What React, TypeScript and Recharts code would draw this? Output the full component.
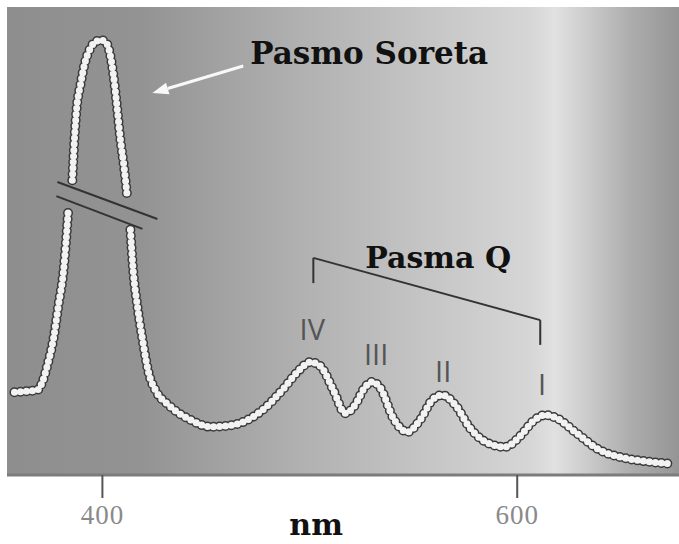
import React from "react";
import {
  LineChart,
  Line,
  XAxis,
  YAxis,
  ReferenceArea,
  ReferenceLine,
  ReferenceDot,
} from "recharts";

// wavelength (nm); null value marks the axis break gaps
const WAVELENGTH = [
  357.6, 362.9, 368.7, 371.1, 373.5, 376.4, 378.8, 381.2, 383.6, 384.6,
  385.5, 386.5, 387.5, 389.4, 391.3, 394.2, 397.1, 399.5, 401.9, 403.8,
  405.3, 406.7, 408.7, 410.6, 412.0, 412.7, 413.5, 414.9, 416.8, 419.3,
  422.2, 425.5, 431.8, 442.4, 452.0, 463.1, 476.1, 487.2, 494.0, 500.2,
  505.0, 511.3, 517.1, 521.9, 526.3, 530.1, 534.0, 540.2, 547.0, 553.2,
  559.0, 563.8, 570.1, 577.3, 587.0, 594.2, 601.4, 607.7, 613.5, 619.7,
  627.9, 639.9, 652.0, 664.1, 673.7,
];

const ABSORBANCE: (number | null)[] = [
  17.7, 17.9, 18.2, 19.9, 23.5, 29.1, 36.3, 43.4, 57.1, null,
  63.0, 71.6, 78.0, 83.3, 87.6, 91.2, 92.7, 92.9, 92.3, 89.7,
  85.5, 80.1, 71.6, 65.2, 59.2, null, 52.4, 43.4, 36.3, 29.1,
  22.0, 18.2, 15.0, 11.8, 10.3, 10.7, 13.5, 18.4, 22.0, 24.1,
  23.3, 18.2, 13.2, 15.0, 18.6, 19.9, 18.6, 12.2, 9.2, 11.8,
  16.0, 17.1, 15.0, 10.0, 6.6, 6.0, 8.3, 11.5, 12.8, 12.0,
  9.2, 5.3, 3.6, 2.8, 2.4,
];

const X_TICKS = [400, 600];
const X_DOMAIN = [354, 678];
const Y_DOMAIN = [0, 100];

const ROMAN_LABELS = ["IV", "III", "II", "I"];
const ROMAN_X = [501.2, 532.0, 564.3, 612.0];
const ROMAN_Y = [28.8, 23.5, 19.9, 17.1];

const data = WAVELENGTH.map((nm, i) => ({ nm, v: ABSORBANCE[i] }));

const boldSerif = "'DejaVu Serif', serif";

const ArrowShape = (p: any) => {
  const { x1, y1, x2, y2 } = p;
  const dx = x2 - x1;
  const dy = y2 - y1;
  const len = Math.sqrt(dx * dx + dy * dy) || 1;
  const ux = dx / len;
  const uy = dy / len;
  const hl = 16;
  const hw = 6;
  const bx = x2 - ux * hl;
  const by = y2 - uy * hl;
  const pts = `${x2},${y2} ${bx - uy * hw},${by + ux * hw} ${bx + uy * hw},${by - ux * hw}`;
  return (
    <g>
      <line x1={x1} y1={y1} x2={bx} y2={by} stroke="#f8f8f8" strokeWidth={3} />
      <polygon points={pts} fill="#f8f8f8" />
    </g>
  );
};

const textShape =
  (txt: string, style: any, anchor: string) => (p: any) =>
    (
      <text x={p.cx} y={p.cy} textAnchor={anchor} {...style}>
        {txt}
      </text>
    );

const Tick = (p: any) => (
  <text
    x={p.x}
    y={p.y + 24}
    textAnchor="middle"
    fontFamily="'Liberation Serif', serif"
    fontSize={27}
    fill="#8a8a8a"
    letterSpacing={1}
  >
    {p.payload.value}
  </text>
);

export default function App() {
  return (
    <div style={{ position: "absolute", left: 0, top: 0 }}>
      <LineChart
        width={679}
        height={544}
        data={data}
        margin={{ top: 7, right: 0, left: 7, bottom: 0 }}
      >
        <defs>
          <linearGradient id="bg" x1="0" y1="0" x2="1" y2="0">
            <stop offset="0" stopColor="#8e8e8e" />
            <stop offset="0.2" stopColor="#939393" />
            <stop offset="0.44" stopColor="#b1b1b1" />
            <stop offset="0.66" stopColor="#c9c9c9" />
            <stop offset="0.78" stopColor="#d6d6d6" />
            <stop offset="0.815" stopColor="#e1e1e1" />
            <stop offset="0.86" stopColor="#cdcdcd" />
            <stop offset="0.93" stopColor="#acacac" />
            <stop offset="1" stopColor="#959595" />
          </linearGradient>
        </defs>
        <ReferenceArea
          x1={X_DOMAIN[0]}
          x2={X_DOMAIN[1]}
          y1={Y_DOMAIN[0]}
          y2={Y_DOMAIN[1]}
          fill="url(#bg)"
          fillOpacity={1}
          stroke="none"
          ifOverflow="extendDomain"
        />
        <XAxis
          dataKey="nm"
          type="number"
          domain={X_DOMAIN}
          ticks={X_TICKS}
          allowDataOverflow
          height={69}
          tickSize={23}
          axisLine={{ stroke: "#7c7c7c", strokeWidth: 3 }}
          tickLine={{ stroke: "#555", strokeWidth: 2 }}
          tick={Tick}
          label={{
            content: (lp: any) => {
              const vb = lp.viewBox || { x: 7, y: 475, width: 672, height: 69 };
              return (
                <text
                  x={vb.x + vb.width * 0.46}
                  y={vb.y + vb.height - 9}
                  textAnchor="middle"
                  fontFamily={boldSerif}
                  fontWeight="bold"
                  fontSize={30}
                  fill="#111"
                >
                  nm
                </text>
              );
            },
          }}
        />
        <YAxis hide domain={Y_DOMAIN} allowDataOverflow />
        {/* break marks */}
        <ReferenceLine
          segment={[
            { x: 378.3, y: 62.6 },
            { x: 426.5, y: 54.7 },
          ]}
          stroke="#333"
          strokeWidth={2}
        />
        <ReferenceLine
          segment={[
            { x: 377.8, y: 59.6 },
            { x: 419.3, y: 52.6 },
          ]}
          stroke="#333"
          strokeWidth={2}
        />
        {/* Q-band bracket */}
        <ReferenceLine
          segment={[
            { x: 501.7, y: 41.0 },
            { x: 501.7, y: 46.4 },
          ]}
          stroke="#333"
          strokeWidth={2}
        />
        <ReferenceLine
          segment={[
            { x: 501.7, y: 46.4 },
            { x: 611.1, y: 33.1 },
          ]}
          stroke="#333"
          strokeWidth={2}
        />
        <ReferenceLine
          segment={[
            { x: 611.1, y: 33.1 },
            { x: 611.1, y: 27.8 },
          ]}
          stroke="#333"
          strokeWidth={2}
        />
        {/* arrow */}
        <ReferenceLine
          segment={[
            { x: 467.9, y: 87.4 },
            { x: 424.1, y: 81.6 },
          ]}
          shape={ArrowShape}
        />
        <Line
          dataKey="v"
          type="monotone"
          stroke="#3a3a3a"
          strokeWidth={10}
          strokeDasharray="0 6"
          strokeLinecap="round"
          dot={false}
          activeDot={false}
          isAnimationActive={false}
        />
        <Line
          dataKey="v"
          type="monotone"
          stroke="#f2f2f2"
          strokeWidth={7}
          strokeDasharray="0 6"
          strokeLinecap="round"
          dot={false}
          activeDot={false}
          isAnimationActive={false}
        />
        <ReferenceDot
          x={471.3}
          y={87.8}
          r={0}
          shape={textShape(
            "Pasmo Soreta",
            { fontFamily: boldSerif, fontWeight: "bold", fontSize: 31, fill: "#111" },
            "start"
          )}
        />
        <ReferenceDot
          x={526.7}
          y={44.2}
          r={0}
          shape={textShape(
            "Pasma Q",
            { fontFamily: boldSerif, fontWeight: "bold", fontSize: 30, fill: "#111" },
            "start"
          )}
        />
        {ROMAN_LABELS.map((t, i) => (
          <ReferenceDot
            key={t}
            x={ROMAN_X[i]}
            y={ROMAN_Y[i]}
            r={0}
            shape={textShape(
              t,
              { fontFamily: "'Open Sans', sans-serif", fontWeight: 400, fontSize: 29, fill: "#555" },
              "middle"
            )}
          />
        ))}
      </LineChart>
    </div>
  );
}
